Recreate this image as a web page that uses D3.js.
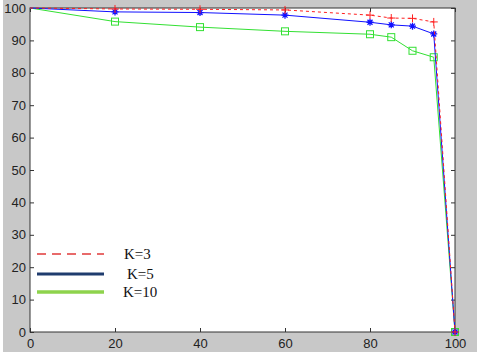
<!DOCTYPE html>
<html>
<head>
<meta charset="utf-8">
<script src="https://cdn.jsdelivr.net/npm/d3@7"></script>
<style>
  body { margin: 0; background: #fff; }
  svg { display: block; }
</style>
</head>
<body>
<script>
const width = 480
const height = 355

// data
const xs   = [0, 20, 40, 60, 80, 85, 90, 95, 100]
const k3   = [100, 99.7, 99.6, 99.4, 97.8, 96.9, 96.8, 95.7, 0]
const k5   = [100, 98.8, 98.6, 97.8, 95.6, 94.8, 94.4, 92.0, 0]
const k10  = [100, 95.8, 94.1, 92.8, 91.9, 91.0, 86.8, 84.8, 0]
const xTicks = [0, 20, 40, 60, 80, 100]
const yTicks = [0, 10, 20, 30, 40, 50, 60, 70, 80, 90, 100]
const legendNames = ["K=3", "K=5", "K=10"]

const margin = {left: 30, right: 25, top: 8, bottom: 23}

const x = d3.scaleLinear().domain([0, 100]).range([margin.left, width - margin.right])
const y = d3.scaleLinear().domain([0, 100]).range([height - margin.bottom, margin.top])

const svg = d3.select("body").append("svg")
  .attr("width", width)
  .attr("height", height)

// grey figure background
svg.append("rect")
  .attr("x", 3).attr("y", 0)
  .attr("width", 474).attr("height", 352)
  .attr("fill", "#c8c8c8")

svg.append("rect")
  .attr("x", x(0)).attr("y", y(100))
  .attr("width", x(100) - x(0)).attr("height", y(0) - y(100))
  .attr("fill", "#fff")

//axes, ticks pointing inward
const tickStyle = g => {
  g.select(".domain").remove()
  g.selectAll("line").attr("stroke", "#333")
  g.selectAll("text")
    .attr("fill", "#222")
    .style("font-family", "Arial, 'Liberation Sans', sans-serif")
    .style("font-size", "13px")
}

svg.append("g")
  .attr("transform", `translate(0,${y(0)})`)
  .call(d3.axisBottom(x).tickValues(xTicks).tickSizeInner(-4).tickSizeOuter(0).tickPadding(7))
  .call(tickStyle)

svg.append("g")
  .attr("transform", `translate(${x(0)},0)`)
  .call(d3.axisLeft(y).tickValues(yTicks).tickSizeInner(-4).tickSizeOuter(0).tickPadding(4))
  .call(tickStyle)

svg.append("g")
  .attr("transform", `translate(${x(100)},0)`)
  .call(d3.axisRight(y).tickValues(yTicks).tickSizeInner(-4).tickSizeOuter(0).tickFormat(""))
  .call(tickStyle)

svg.append("g")
  .attr("transform", `translate(0,${y(100)})`)
  .call(d3.axisTop(x).tickValues(xTicks).tickSizeInner(-4).tickSizeOuter(0).tickFormat(""))
  .call(tickStyle)

svg.append("rect")
  .attr("x", x(0)).attr("y", y(100))
  .attr("width", x(100) - x(0)).attr("height", y(0) - y(100))
  .attr("fill", "none")
  .attr("stroke", "#333")
  .attr("stroke-width", 1)

const line = d3.line().x(d => x(d[0])).y(d => y(d[1]))

const series = [
  {vals: k10, color: "#33e033", dash: null, marker: "square"},
  {vals: k5,  color: "#1010ff", dash: null, marker: "star"},
  {vals: k3,  color: "#ff2020", dash: "3,3", marker: "plus"},
]

series.forEach(s => {
  const pts = xs.map((v, i) => [v, s.vals[i]])
  svg.append("path")
    .attr("d", line(pts))
    .attr("fill", "none")
    .attr("stroke", s.color)
    .attr("stroke-width", 1)
    .attr("stroke-dasharray", s.dash)

  const g = svg.append("g")
  pts.forEach(p => {
    const cx = x(p[0]), cy = y(p[1])
    if (p[0] == 0) return
    if (s.marker == "square") {
      g.append("rect")
        .attr("x", cx - 3.5).attr("y", cy - 3.5)
        .attr("width", 7).attr("height", 7)
        .attr("fill", "none").attr("stroke", s.color)
    } else if (s.marker == "plus") {
      g.append("path")
        .attr("d", `M${cx - 4},${cy}H${cx + 4}M${cx},${cy - 4}V${cy + 4}`)
        .attr("stroke", s.color)
    } else {
      g.append("path")
        .attr("d", `M${cx - 3.5},${cy}H${cx + 3.5}M${cx},${cy - 3.5}V${cy + 3.5}M${cx - 2.5},${cy - 2.5}L${cx + 2.5},${cy + 2.5}M${cx - 2.5},${cy + 2.5}L${cx + 2.5},${cy - 2.5}`)
        .attr("stroke", s.color)
        .attr("stroke-width", 1.3)
    }
  })
})

// legend (pasted-in style, no box)
const legendStyles = [
  {color: "#e86a6a", width: 2, dash: "9,6", tx: 124},
  {color: "#1f3c6e", width: 3, dash: null, tx: 127},
  {color: "#8ed34c", width: 3.5, dash: null, tx: 123},
]
const legendY = [254, 274, 292]

legendNames.forEach((name, i) => {
  const st = legendStyles[i]
  svg.append("line")
    .attr("x1", 37).attr("x2", 104)
    .attr("y1", legendY[i]).attr("y2", legendY[i])
    .attr("stroke", st.color)
    .attr("stroke-width", st.width)
    .attr("stroke-dasharray", st.dash)
  svg.append("text")
    .attr("x", st.tx)
    .attr("y", legendY[i] + 5)
    .attr("fill", "#111")
    .style("font-family", "'Liberation Serif', 'DejaVu Serif', serif")
    .style("font-size", "15px")
    .text(name)
})
</script>
</body>
</html>
